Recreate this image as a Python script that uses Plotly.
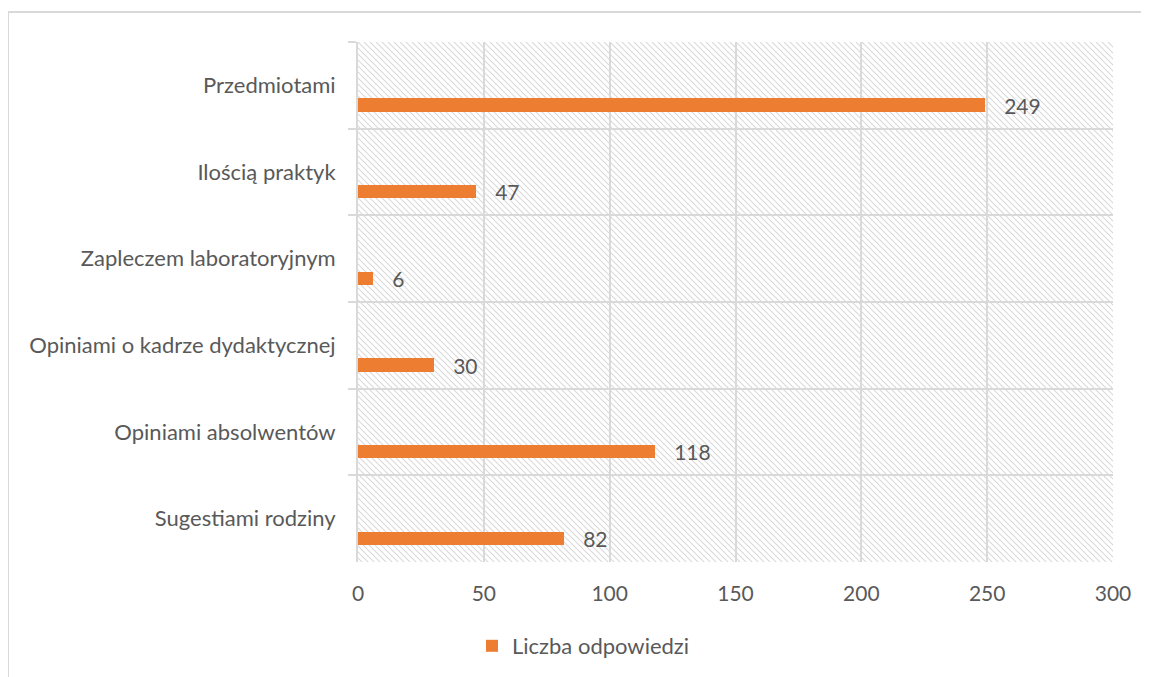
import base64
import plotly.graph_objects as go

# dane
kategorie = ['Przedmiotami', 'Ilością praktyk', 'Zapleczem laboratoryjnym',
             'Opiniami o kadrze dydaktycznej', 'Opiniami absolwentów', 'Sugestiami rodziny']
liczba_odpowiedzi = [249, 47, 6, 30, 118, 82]
nazwa_serii = 'Liczba odpowiedzi'
x_ticks = [0, 50, 100, 150, 200, 250, 300]

# strona ma 8 px marginesu w body, wiec wszystko przesuniete o 8
D = 8
W, H = 1149 - D, 677 - D
L, T = 358 - D, 42 - D
pw, ph = 755, 520
R, B = W - L - pw, H - T - ph

def px_x(px):
    return (px - D - L) / pw

def px_y(py):
    return (T + ph - (py - D)) / ph

szary = '#595959'
siatka = '#d9d9d9'
pomarancz = '#ED7D31'
font = 'Lato'

# tlo w skosne paski (jak w Excelu)
s = 6
svg = (
    f'<svg xmlns="http://www.w3.org/2000/svg" width="{pw}" height="{ph}">'
    f'<defs><pattern id="p" width="{s}" height="{s}" patternUnits="userSpaceOnUse">'
    f'<path d="M-1,-1 L{s+1},{s+1} M{-s-1},-1 L1,{s+1} M{s-1},-1 L{2*s+1},{s+1}" '
    f'stroke="#d9d9d9" stroke-width="1.1"/></pattern></defs>'
    f'<rect width="{pw}" height="{ph}" fill="url(#p)"/></svg>'
)
src = 'data:image/svg+xml;base64,' + base64.b64encode(svg.encode()).decode()

fig = go.Figure()
fig.add_trace(
    go.Bar(
        name=nazwa_serii,
        x=liczba_odpowiedzi,
        y=kategorie,
        orientation='h',
        marker=dict(color=pomarancz, line=dict(width=0)),
        offset=0.15,
        width=0.155,
        texttemplate='\u00a0\u00a0\u00a0%{x}',
        textposition='outside',
        constraintext='none',
        textfont=dict(family=font, size=21, color=szary),
        cliponaxis=False,
        hoverinfo='skip',
    )
)

fig.update_layout(
    width=W,
    height=H,
    margin=dict(l=L, r=R, t=T, b=B, autoexpand=False),
    paper_bgcolor='white',
    plot_bgcolor='white',
    font=dict(family=font, size=21, color=szary),
    showlegend=True,
    legend=dict(
        orientation='h',
        x=px_x(472),
        xanchor='left',
        y=px_y(646),
        yanchor='middle',
        font=dict(family=font, size=22, color=szary),
        bgcolor='rgba(0,0,0,0)',
    ),
    images=[dict(
        source=src, xref='paper', yref='paper', x=0, y=1,
        sizex=1, sizey=1, sizing='stretch', xanchor='left', yanchor='top',
        layer='below',
    )],
    shapes=[dict(
        type='rect', xref='paper', yref='paper',
        x0=px_x(8), x1=px_x(1175),
        y0=px_y(700), y1=px_y(12),
        line=dict(color=siatka, width=2), fillcolor='rgba(0,0,0,0)', layer='below',
    )],
    xaxis=dict(
        range=[0, 300],
        tickvals=x_ticks,
        showgrid=True,
        gridcolor=siatka,
        gridwidth=2,
        zeroline=False,
        showline=False,
        ticks='',
        ticklabelstandoff=17,
        tickfont=dict(family=font, size=21, color=szary),
        fixedrange=True,
    ),
    yaxis=dict(
        autorange='reversed',
        tickson='boundaries',
        ticks='outside',
        ticklen=8,
        tickwidth=2,
        tickcolor=siatka,
        showgrid=True,
        gridcolor=siatka,
        gridwidth=2,
        showline=True,
        linecolor=siatka,
        linewidth=2,
        ticklabelstandoff=16,
        tickfont=dict(family=font, size=22, color=szary),
        fixedrange=True,
    ),
    bargap=0,
)

fig.write_html("out.html")
